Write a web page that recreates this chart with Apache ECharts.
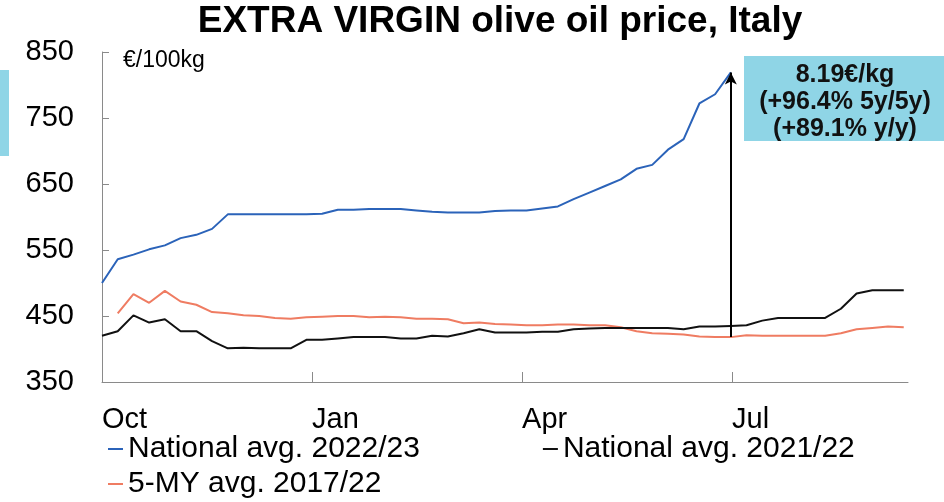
<!DOCTYPE html>
<html>
<head>
<meta charset="utf-8">
<script src="https://cdn.jsdelivr.net/npm/echarts@6/dist/echarts.min.js"></script>
<style>
html,body{margin:0;padding:0;background:#fff;}
#chart{width:944px;height:502px;}
</style>
</head>
<body>
<div id="chart"></div>
<script>
// ---- data ----
const weeks = [0,1,2,3,4,5,6,7,8,9,10,11,12,13,14,15,16,17,18,19,20,21,22,23,24,25,26,27,28,29,30,31,32,33,34,35,36,37,38,39,40,41,42,43,44,45,46,47,48,49,50,51];
const tickWeeks = [0, 13.36, 26.72, 40.08];
const tickLabels = ['Oct', 'Jan', 'Apr', 'Jul'];
const seriesNames = ['National avg. 2022/23', 'National avg. 2021/22', '5-MY avg. 2017/22'];
const nat2223 = [500,536,543,551,557,568,573,582,604,604,604,604,604,604,605,611,611,612,612,612,610,608,607,607,607,609,610,610,613,616,627,637,647,657,673,679,702,718,772,786,819];
const nat2122 = [420,427,451,440,445,427,427,412,401,402,401,401,401,414,414,416,418,418,418,416,416,420,419,424,430,425,425,425,426,426,430,431,432,432,432,432,432,430,434,434,435,436,443,447,447,447,447,461,484,489,489,489];
const avg5y = [null,454,483,470,488,472,467,456,454,451,450,447,446,448,449,450,450,448,449,448,446,446,445,439,440,438,437,436,436,437,437,436,436,433,427,424,423,422,419,418,418,421,420,420,420,420,420,424,430,432,434,433];
const annotationLines = ['8.19€/kg', '(+96.4% 5y/5y)', '(+89.1% y/y)'];
const unitLabel = '€/100kg';
const titleText = 'EXTRA VIRGIN olive oil price, Italy';

const colors = ['#2b63b9', '#111111', '#ef7c62'];
const FONT = '"Liberation Sans", Arial, sans-serif';

function pairs(vals) {
  return vals.map((v, i) => [weeks[i], v]);
}
const last = nat2223.length - 1;

const chart = echarts.init(document.getElementById('chart'), null, {renderer: 'canvas'});
chart.setOption({
  animation: false,
  title: {
    text: titleText,
    left: 500,
    top: 3,
    padding: 0,
    textAlign: 'center',
    textStyle: {fontFamily: FONT, fontSize: 37, fontWeight: 'bold', color: '#000'}
  },
  grid: {left: 102, right: 36, top: 52, bottom: 120, containLabel: false},
  legend: [
    {
      data: [seriesNames[0], seriesNames[1]],
      left: 108, top: 433, padding: 0, itemGap: 123,
      icon: 'rect', itemWidth: 15, itemHeight: 2,
      textStyle: {fontFamily: FONT, fontSize: 30, color: '#000', lineHeight: 32}
    },
    {
      data: [seriesNames[2]],
      left: 108, top: 468, padding: 0,
      icon: 'rect', itemWidth: 15, itemHeight: 2,
      textStyle: {fontFamily: FONT, fontSize: 30, color: '#000', lineHeight: 32}
    }
  ],
  xAxis: {
    type: 'value',
    min: 0,
    max: 51.27,
    splitLine: {show: false},
    axisLine: {show: true, lineStyle: {color: '#8a8a8a', width: 1}},
    axisTick: {show: true, inside: true, length: 10, customValues: tickWeeks, lineStyle: {color: '#8a8a8a'}},
    axisLabel: {
      show: true,
      customValues: tickWeeks,
      margin: 23,
      align: 'left',
      fontFamily: FONT, fontSize: 29, color: '#000',
      formatter: function (v) {
        for (let i = 0; i < tickWeeks.length; i++) {
          if (Math.abs(v - tickWeeks[i]) < 0.01) return tickLabels[i];
        }
        return '';
      }
    }
  },
  yAxis: {
    type: 'value',
    min: 350,
    max: 850,
    interval: 100,
    splitLine: {show: false},
    axisLine: {show: true, lineStyle: {color: '#8a8a8a', width: 1}},
    axisTick: {show: true, inside: true, length: 7, lineStyle: {color: '#8a8a8a'}},
    axisLabel: {margin: 28, fontFamily: FONT, fontSize: 29, color: '#000'}
  },
  series: [
    {
      name: seriesNames[0], type: 'line', data: pairs(nat2223),
      showSymbol: false, symbol: 'none', color: colors[0], lineStyle: {width: 2, color: colors[0]}, z: 3,
      markLine: {
        silent: true,
        symbol: ['none', 'arrow'],
        symbolSize: [9, 12],
        label: {show: false},
        lineStyle: {color: '#000', width: 2, type: 'solid'},
        data: [[{coord: [weeks[last], avg5y[last]]}, {coord: [weeks[last], nat2223[last]]}]]
      }
    },
    {
      name: seriesNames[1], type: 'line', data: pairs(nat2122),
      showSymbol: false, symbol: 'none', color: colors[1], lineStyle: {width: 2, color: colors[1]}, z: 2
    },
    {
      name: seriesNames[2], type: 'line', data: pairs(avg5y),
      showSymbol: false, symbol: 'none', color: colors[2], lineStyle: {width: 2, color: colors[2]}, z: 1
    }
  ],
  graphic: [
    {type: 'rect', shape: {x: 0, y: 70, width: 9, height: 86}, style: {fill: '#8fd5e6'}, silent: true},
    {type: 'rect', shape: {x: 744, y: 56, width: 200, height: 85}, style: {fill: '#8fd5e6'}, silent: true},
    {
      type: 'text', x: 845, y: 102, silent: true,
      style: {
        text: annotationLines.join('\n'),
        fontFamily: FONT, fontSize: 25, fontWeight: 'bold', fill: '#111',
        align: 'center', verticalAlign: 'middle', lineHeight: 27
      }
    },
    {
      type: 'text', x: 123, y: 61, silent: true,
      style: {text: unitLabel, fontFamily: FONT, fontSize: 23, fill: '#000', align: 'left', verticalAlign: 'middle'}
    }
  ]
});
</script>
</body>
</html>
